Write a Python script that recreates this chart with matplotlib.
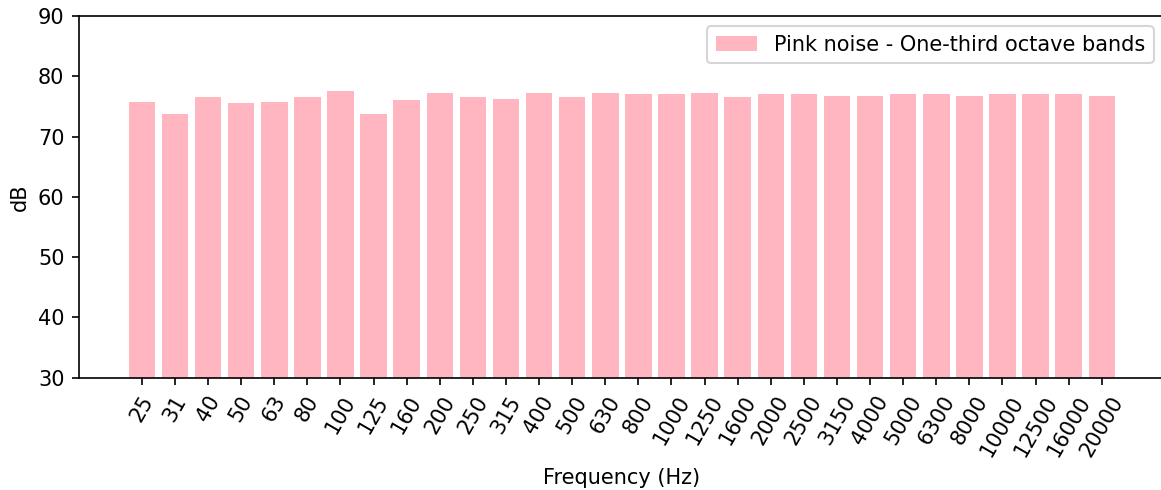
import numpy as np
import matplotlib
matplotlib.use('Agg')
import matplotlib.pyplot as plt

# one-third octave band centre frequencies and measured levels
bands = ['25', '31', '40', '50', '63', '80', '100', '125', '160', '200',
         '250', '315', '400', '500', '630', '800', '1000', '1250', '1600', '2000',
         '2500', '3150', '4000', '5000', '6300', '8000', '10000', '12500', '16000', '20000']
levels_db = [75.8, 73.8, 76.5, 75.5, 75.8, 76.5, 77.5, 73.8, 76.0, 77.3,
             76.5, 76.3, 77.3, 76.5, 77.3, 77.0, 77.0, 77.3, 76.5, 77.0,
             77.0, 76.8, 76.8, 77.0, 77.0, 76.8, 77.0, 77.0, 77.0, 76.8]

dpi = 150
fig = plt.figure(figsize=(1161 / dpi, 490 / dpi), dpi=dpi)
# the original picture is cropped just left of the right spine
ax = fig.add_axes([79 / 1161, 112.3 / 490, 1085 / 1161, 361.7 / 490])

x = np.arange(len(bands))
ax.bar(x, levels_db, width=0.8, color='lightpink', label='Pink noise - One-third octave bands')
ax.set_xticks(x)
ax.set_xticklabels(bands, rotation=60)
ax.set_xlim(-1.9, 30.88)
ax.set_ylim(30, 90)
ax.set_xlabel('Frequency (Hz)')
ax.set_ylabel('dB')
ax.legend(loc='upper right')

fig.savefig('out.png', dpi=dpi)
